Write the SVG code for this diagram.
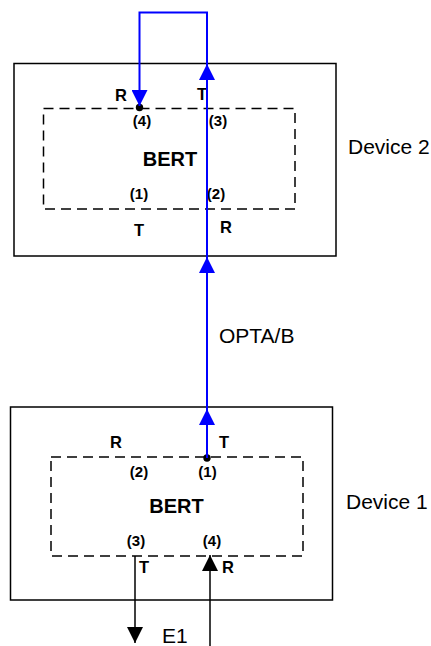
<svg xmlns="http://www.w3.org/2000/svg" width="431" height="646" viewBox="0 0 431 646">
<style>
.box{fill:none;stroke:#000;stroke-width:1.5}
.dash{fill:none;stroke:#000;stroke-width:1.5;stroke-dasharray:10 6}
.blue{fill:none;stroke:#0000FF;stroke-width:2}
.blk{fill:none;stroke:#000;stroke-width:1.5}
.lbl{font-family:"Liberation Sans",Arial,sans-serif;font-weight:bold;font-size:16.5px;fill:#000}
.num{font-family:"Liberation Sans",Arial,sans-serif;font-weight:bold;font-size:15px;fill:#000;text-anchor:middle}
.bert{font-family:"Liberation Sans",Arial,sans-serif;font-weight:bold;font-size:20px;fill:#000;text-anchor:middle}
.name{font-family:"Liberation Sans",Arial,sans-serif;font-size:21px;fill:#000}
</style>
<defs>
<marker id="ab" markerWidth="16" markerHeight="16" viewBox="0 0 16 16" refX="16" refY="8" orient="auto" markerUnits="userSpaceOnUse">
<path d="M0,0 L16,8 L0,16 Z" fill="#0000FF"/>
</marker>
<marker id="ak" markerWidth="16" markerHeight="16" viewBox="0 0 16 16" refX="16" refY="8" orient="auto" markerUnits="userSpaceOnUse">
<path d="M0,0 L16,8 L0,16 Z" fill="#000"/>
</marker>
</defs>
<g id="device2">
<rect class="box" x="14" y="63.5" width="322" height="192.5"/>
<rect class="dash" x="43.5" y="108.5" width="251.5" height="100.5"/>
<text class="bert" x="170" y="166">BERT</text>
<text class="lbl" x="115" y="101">R</text>
<text class="lbl" x="197" y="100">T</text>
<text class="num" x="142" y="125.5">(4)</text>
<text class="num" x="218" y="125.5">(3)</text>
<text class="num" x="139" y="198.5">(1)</text>
<text class="num" x="216" y="198.5">(2)</text>
<text class="lbl" x="139" y="236" text-anchor="middle">T</text>
<text class="lbl" x="226" y="233" text-anchor="middle">R</text>
<text class="name" x="348" y="154">Device 2</text>
</g>
<g id="device1">
<rect class="box" x="10.5" y="407" width="322" height="193"/>
<rect class="dash" x="51" y="457" width="252" height="99"/>
<text class="bert" x="176.5" y="512.5">BERT</text>
<text class="lbl" x="116" y="448" text-anchor="middle">R</text>
<text class="lbl" x="224" y="448" text-anchor="middle">T</text>
<text class="num" x="139" y="477">(2)</text>
<text class="num" x="207.5" y="477">(1)</text>
<text class="num" x="136" y="545.5">(3)</text>
<text class="num" x="212" y="545.5">(4)</text>
<text class="lbl" x="144" y="573" text-anchor="middle">T</text>
<text class="lbl" x="228" y="573" text-anchor="middle">R</text>
<text class="name" x="346" y="509">Device 1</text>
</g>
<g id="labels">
<text class="name" x="219" y="343">OPTA/B</text>
<text class="name" x="162" y="643">E1</text>
</g>
<g id="connectors">
<circle cx="207" cy="458" r="3.7" fill="#000"/>
<circle cx="139.5" cy="107.5" r="3.7" fill="#000"/>
<path class="blue" d="M207,458 V409" marker-end="url(#ab)"/>
<path class="blue" d="M207,409 V257" marker-end="url(#ab)"/>
<path class="blue" d="M207,257 V64" marker-end="url(#ab)"/>
<path class="blue" d="M207,64 V12.5 H139.5 V106" marker-end="url(#ab)"/>
<path class="blk" d="M135,556 V643" marker-end="url(#ak)"/>
<path class="blk" d="M210,646 V555" marker-end="url(#ak)"/>
</g>
</svg>
